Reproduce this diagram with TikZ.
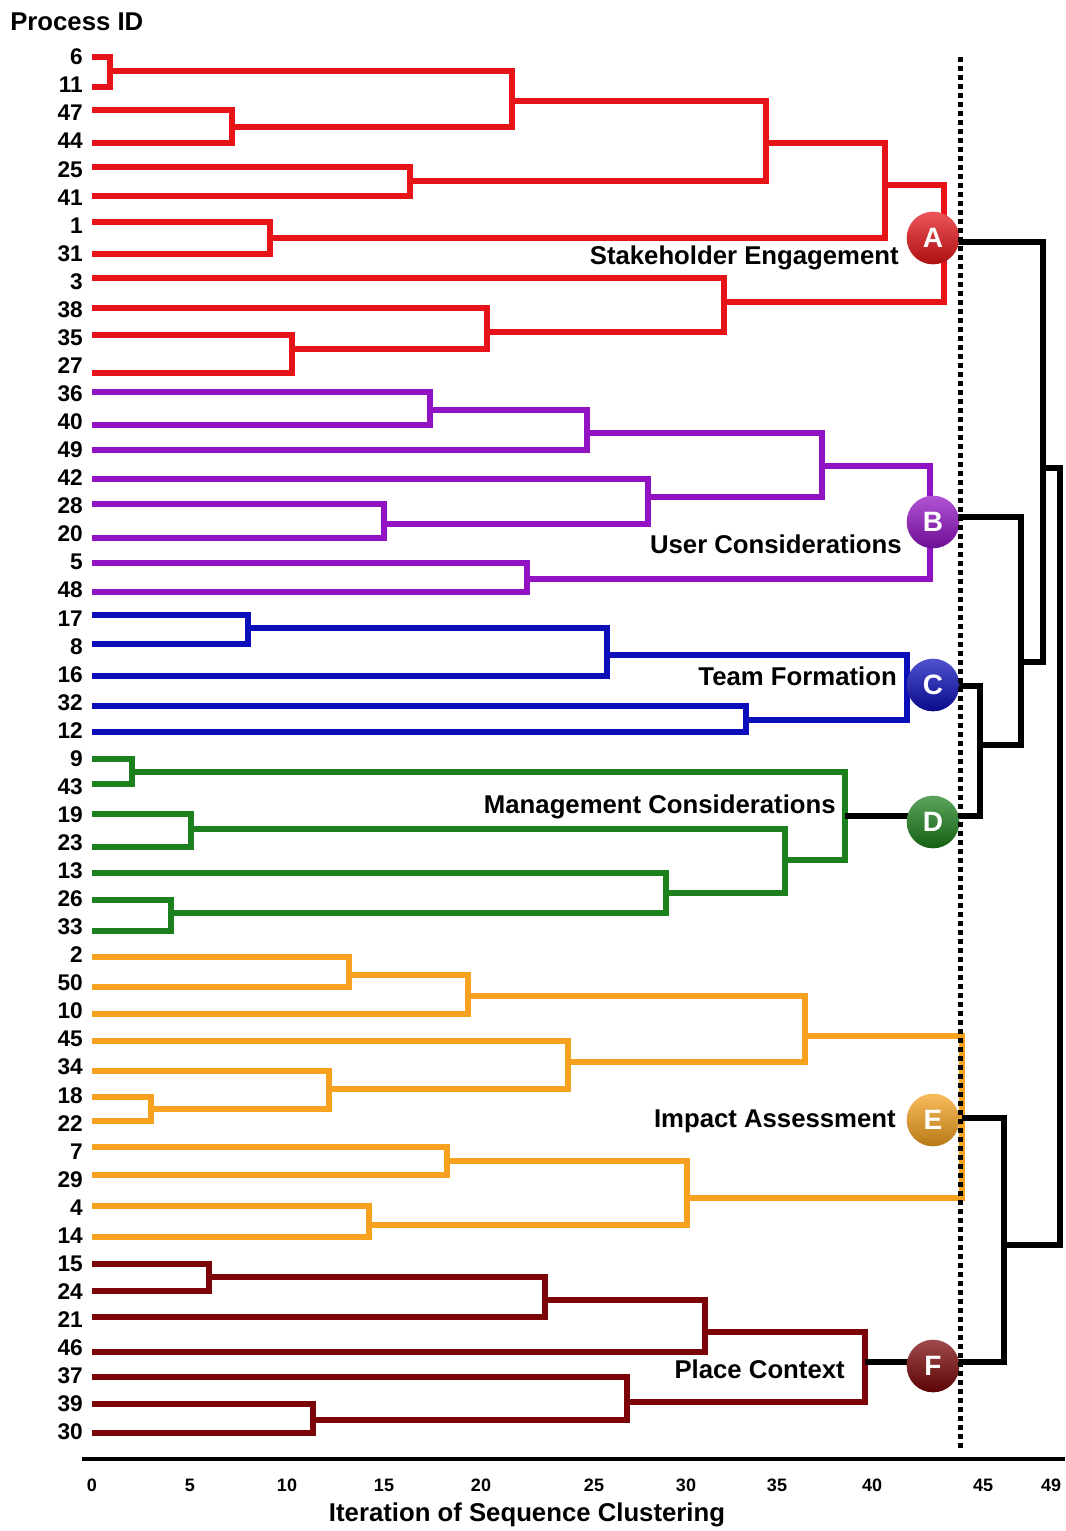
\documentclass[tikz,border=0pt]{standalone}
\usepackage{fontspec}
\setmainfont{Liberation Sans}
\definecolor{clRed}{RGB}{230,20,24}
\definecolor{clPurple}{RGB}{146,18,196}
\definecolor{clBlue}{RGB}{12,14,186}
\definecolor{clGreen}{RGB}{28,128,28}
\definecolor{clOrange}{RGB}{246,162,30}
\definecolor{clMaroon}{RGB}{122,4,6}
\begin{document}
\begin{tikzpicture}[x=0.75pt,y=-0.75pt,
  branch/.style={line width=4.1pt, line join=miter, line cap=butt},
  joinline/.style={branch, black, line width=3.8pt},
  leaflab/.style={anchor=east, inner sep=0pt, font=\bfseries\fontsize{17}{20}\selectfont},
  grouplab/.style={anchor=base east, inner sep=0pt, font=\bfseries\fontsize{19.3}{23}\selectfont},
  ticklab/.style={inner sep=0pt, font=\bfseries\fontsize{13.5}{16}\selectfont},
  badge/.style={circle, minimum size=39.5pt, inner sep=0pt, text=white,
    font=\bfseries\fontsize{21}{25}\selectfont,
    top color=#1!72!white, middle color=#1, bottom color=#1!75!black},
  cutline/.style={line width=3.75pt, dash pattern=on 3.75pt off 3pt}]

% canvas
\fill[white] (0,0) rectangle (1065,1531);
\useasboundingbox (0,0) rectangle (1065,1531);

% leaf labels
\foreach \id [count=\i from 0] in {6,11,47,44,25,41,1,31,3,38,35,27,36,40,49,42,28,20,5,48,17,8,16,32,12,9,43,19,23,13,26,33,2,50,10,45,34,18,22,7,29,4,14,15,24,21,46,37,39,30}
  \node[leaflab] (n\id) at (83,{57+28.06*\i}) {\id};

% start points of the leaf branches
\foreach \id/\y in {6/57,11/87,47/110,44/143,25/167,41/196,1/222,31/254,3/278,38/308,35/335,27/373,
  36/392,40/425,49/450,42/479,28/504,20/538,5/563,48/592,
  17/615,8/644,16/676,32/706,12/732,
  9/759,43/784,19/814,23/847,13/873,26/900,33/931,
  2/957,50/987,10/1014,45/1041,34/1071,18/1097,22/1121,7/1147,29/1175,4/1206,14/1237,
  15/1264,24/1291,21/1317,46/1352,37/1377,39/1404,30/1433}
  \coordinate (s\id) at (92,\y);

% merge points
\coordinate (r1) at (110,71);   \coordinate (r2) at (232,127);  \coordinate (r3) at (512,101);
\coordinate (r4) at (410,181);  \coordinate (r5) at (766,143);  \coordinate (r6) at (270,238);
\coordinate (r7) at (885,185);  \coordinate (r8) at (292,349);  \coordinate (r9) at (487,332);
\coordinate (r10) at (724,302); \coordinate (rA) at (944,242);
\coordinate (p1) at (430,410);  \coordinate (p2) at (587,433);  \coordinate (p3) at (384,524);
\coordinate (p4) at (648,497);  \coordinate (p5) at (822,466);  \coordinate (p6) at (527,579);
\coordinate (pB) at (930,517);
\coordinate (b1) at (248,628);  \coordinate (b2) at (607,655);  \coordinate (b3) at (746,720);
\coordinate (bC) at (907,686);
\coordinate (g1) at (132,772);  \coordinate (g2) at (191,829);  \coordinate (g3) at (171,913);
\coordinate (g4) at (666,893);  \coordinate (g5) at (785,860);  \coordinate (gD) at (845,816);
\coordinate (o1) at (349,975);  \coordinate (o2) at (468,996);  \coordinate (o3) at (151,1109);
\coordinate (o4) at (329,1089); \coordinate (o5) at (568,1062); \coordinate (o6) at (805,1036);
\coordinate (o7) at (447,1161); \coordinate (o8) at (369,1225); \coordinate (o9) at (687,1198);
\coordinate (oE) at (962,1118);
\coordinate (d1) at (209,1277); \coordinate (d2) at (545,1300); \coordinate (d3) at (705,1332);
\coordinate (d4) at (313,1420); \coordinate (d5) at (627,1402); \coordinate (dF) at (865,1362);
\coordinate (k1) at (980,745);  \coordinate (k2) at (1021,662); \coordinate (k3) at (1043,468);
\coordinate (k4) at (1004,1245); \coordinate (k5) at (1060,856);

% cluster A
\begin{scope}[branch, clRed]
\draw (s6) -| (r1) |- (s11);
\draw (s47) -| (r2) |- (s44);
\draw (r1) -| (r3) |- (r2);
\draw (s25) -| (r4) |- (s41);
\draw (r3) -| (r5) |- (r4);
\draw (s1) -| (r6) |- (s31);
\draw (r5) -| (r7) |- (r6);
\draw (s35) -| (r8) |- (s27);
\draw (s38) -| (r9) |- (r8);
\draw (s3) -| (r10) |- (r9);
\draw (r7) -| (rA) |- (r10);
\end{scope}

% cluster B
\begin{scope}[branch, clPurple]
\draw (s36) -| (p1) |- (s40);
\draw (p1) -| (p2) |- (s49);
\draw (s28) -| (p3) |- (s20);
\draw (s42) -| (p4) |- (p3);
\draw (p2) -| (p5) |- (p4);
\draw (s5) -| (p6) |- (s48);
\draw (p5) -| (pB) |- (p6);
\end{scope}

% cluster C
\begin{scope}[branch, clBlue]
\draw (s17) -| (b1) |- (s8);
\draw (b1) -| (b2) |- (s16);
\draw (s32) -| (b3) |- (s12);
\draw (b2) -| (bC) |- (b3);
\end{scope}

% cluster D
\begin{scope}[branch, clGreen]
\draw (s9) -| (g1) |- (s43);
\draw (s19) -| (g2) |- (s23);
\draw (s26) -| (g3) |- (s33);
\draw (s13) -| (g4) |- (g3);
\draw (g2) -| (g5) |- (g4);
\draw (g1) -| (gD) |- (g5);
\end{scope}

% cluster E
\begin{scope}[branch, clOrange]
\draw (s2) -| (o1) |- (s50);
\draw (o1) -| (o2) |- (s10);
\draw (s18) -| (o3) |- (s22);
\draw (s34) -| (o4) |- (o3);
\draw (s45) -| (o5) |- (o4);
\draw (o2) -| (o6) |- (o5);
\draw (s7) -| (o7) |- (s29);
\draw (s4) -| (o8) |- (s14);
\draw (o7) -| (o9) |- (o8);
\draw (o6) -| (oE) |- (o9);
\end{scope}

% cluster F
\begin{scope}[branch, clMaroon]
\draw (s15) -| (d1) |- (s24);
\draw (d1) -| (d2) |- (s21);
\draw (d2) -| (d3) |- (s46);
\draw (s39) -| (d4) |- (s30);
\draw (s37) -| (d5) |- (d4);
\draw (d3) -| (dF) |- (d5);
\end{scope}

% joins between clusters
\draw[joinline] (gD) -| (k1) |- (bC);
\draw[joinline] (pB) -| (k2) |- (k1);
\draw[joinline] (rA) -| (k3) |- (k2);
\draw[joinline] (oE) -| (k4) |- (dF);
\draw[joinline] (k3) -| (k5) |- (k4);

% cluster badges
\node[badge=clRed] (cA) at (933,238) {A};
\node[badge=clPurple] (cB) at (933,522) {B};
\node[badge=clBlue] (cC) at (933,685) {C};
\node[badge=clGreen] (cD) at (933,822) {D};
\node[badge=clOrange] (cE) at (933,1120) {E};
\node[badge=clMaroon] (cF) at (933,1366) {F};

% cluster names
\node[grouplab] (labA) at (899,264) {Stakeholder Engagement};
\node[grouplab] (labB) at (902,553) {User Considerations};
\node[grouplab] (labC) at (897,685) {Team Formation};
\node[grouplab] (labD) at (836,813) {Management Considerations};
\node[grouplab] (labE) at (896,1127) {Impact Assessment};
\node[grouplab] (labF) at (845,1378) {Place Context};

% cut level
\coordinate (cuttop) at (960,57);
\coordinate (cutbot) at (960,1452);
\draw[cutline] (cuttop) -- (cutbot);

% axis
\coordinate (ax0) at (82,1459);
\coordinate (ax1) at (1065,1459);
\draw[line width=2.8pt] (ax0) -- (ax1);
\foreach \v/\x in {0/92,5/190,10/287,15/384,20/481,25/594,30/686,35/777,40/872,45/983,49/1051}
  \node[ticklab] (t\v) at (\x,1485) {\v};
\node[grouplab, anchor=base] (xtitle) at (527,1521) {Iteration of Sequence Clustering};
\node[grouplab, anchor=base west] (ytitle) at (10,31) {Process ID};
\end{tikzpicture}
\end{document}
